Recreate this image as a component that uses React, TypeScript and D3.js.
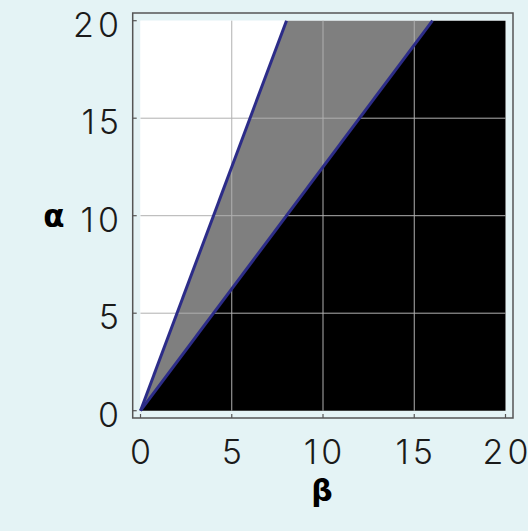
import * as d3 from "d3";
import { useEffect } from "react";

// axis ticks
const betaTicks = [0, 5, 10, 15, 20];
const alphaTicks = [0, 5, 10, 15, 20];

// boundary lines alpha(beta)
const steepLine = [{ beta: 0, alpha: 0 }, { beta: 8, alpha: 20 }];
const shallowLine = [{ beta: 0, alpha: 0 }, { beta: 16, alpha: 20 }];

// filled regions
const whiteRegion = [{ beta: 0, alpha: 0 }, { beta: 0, alpha: 20 }, { beta: 8, alpha: 20 }];
const grayRegion = [{ beta: 0, alpha: 0 }, { beta: 8, alpha: 20 }, { beta: 16, alpha: 20 }];
const blackRegion = [{ beta: 0, alpha: 0 }, { beta: 16, alpha: 20 }, { beta: 20, alpha: 20 }, { beta: 20, alpha: 0 }];

// digits spaced out like the original monospaced labels, without trailing space
const spaced = (t: number) =>
    String(t).split("").map((c, i) => (
        <tspan key={i} dx={i === 0 ? 0 : 4}>{c}</tspan>
    ));

const App = () => {
    const width = 528;
    const height = 531;
    const bg = "#e4f3f5";
    const tickFont = "Inter, 'Open Sans', sans-serif";

    const x = d3.scaleLinear().domain([0, 20]).range([140.5, 505.5]);
    const y = d3.scaleLinear().domain([0, 20]).range([410.7, 20.7]);

    const line = d3.line<{ beta: number; alpha: number }>()
        .x(d => x(d.beta))
        .y(d => y(d.alpha));
    const poly = (pts: { beta: number; alpha: number }[]) => line(pts) + "Z";

    useEffect(() => {
        document.body.style.margin = "0";
        document.body.style.background = bg;
    }, []);

    const frame = { x0: 132.7, x1: 513, y0: 13, y1: 418 };

    return (
        <svg width={width} height={height} style={{ display: "block", background: bg }}>
            <rect x={0} y={0} width={width} height={height} fill={bg} />

            {/* plot area */}
            <rect x={x(0)} y={y(20)} width={x(20) - x(0)} height={y(0) - y(20)} fill="#ffffff" />
            <path d={poly(whiteRegion)} fill="#ffffff" />
            <path d={poly(grayRegion)} fill="#7f7f7f" />
            <path d={poly(blackRegion)} fill="#000000" />

            {/* grid */}
            {betaTicks.slice(1, -1).map(t => (
                <line key={"gx" + t} x1={x(t)} x2={x(t)} y1={y(0)} y2={y(20)} stroke="#b0b0b0" strokeWidth={1} />
            ))}
            {alphaTicks.slice(1, -1).map(t => (
                <line key={"gy" + t} x1={x(0)} x2={x(20)} y1={y(t)} y2={y(t)} stroke="#b0b0b0" strokeWidth={1} />
            ))}

            {/* boundary lines */}
            <path d={line(steepLine) ?? ""} fill="none" stroke="#2c2c88" strokeWidth={3} />
            <path d={line(shallowLine) ?? ""} fill="none" stroke="#2c2c88" strokeWidth={3} />

            {/* frame */}
            <rect x={frame.x0} y={frame.y0} width={frame.x1 - frame.x0} height={frame.y1 - frame.y0}
                fill="none" stroke="#555" strokeWidth={1.5} />

            {/* ticks */}
            {betaTicks.map(t => (
                <line key={"tx" + t} x1={x(t)} x2={x(t)} y1={frame.y1} y2={frame.y1 - 4} stroke="#555" strokeWidth={1.2} />
            ))}
            {alphaTicks.map(t => (
                <line key={"ty" + t} x1={frame.x0} x2={frame.x0 + 4} y1={y(t)} y2={y(t)} stroke="#555" strokeWidth={1.2} />
            ))}

            {/* tick labels */}
            {betaTicks.map(t => (
                <text key={"lx" + t} x={x(t)} y={464} textAnchor="middle" fontFamily={tickFont}
                    fontWeight={300} fontSize={34} fill="#1a1a1a">{spaced(t)}</text>
            ))}
            {alphaTicks.map(t => (
                <text key={"ly" + t} x={119} y={y(t) + 16} textAnchor="end" fontFamily={tickFont}
                    fontWeight={300} fontSize={34} fill="#1a1a1a">{spaced(t)}</text>
            ))}

            {/* axis titles */}
            <text x={54} y={227} textAnchor="middle" fontFamily="'DejaVu Sans', sans-serif"
                fontWeight="bold" fontSize={31} fill="#000">α</text>
            <text x={322} y={501} textAnchor="middle" fontFamily="'DejaVu Sans', sans-serif"
                fontWeight="bold" fontSize={30} fill="#000">β</text>
        </svg>
    );
};

export default App;
